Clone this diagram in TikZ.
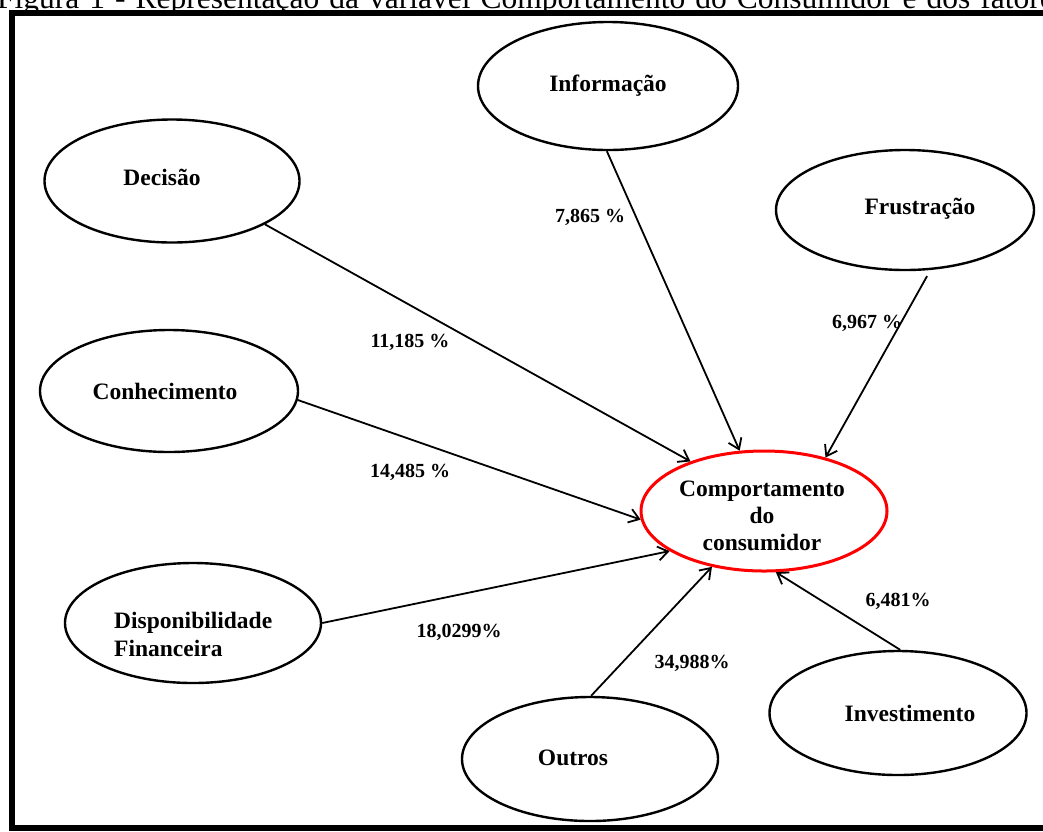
\documentclass[tikz,border=0pt]{standalone}
\usepackage{fontspec}
\setmainfont{Liberation Serif}
\usetikzlibrary{shapes.geometric,arrows.meta}
\begin{document}
\begin{tikzpicture}[x=1pt,y=-1pt,
  oval/.style={draw,ellipse,line width=2.4pt,inner sep=0pt},
  ntext/.style={font=\fontsize{23.5}{28}\selectfont\bfseries, inner sep=0pt, align=center},
  ptext/.style={font=\fontsize{20}{24}\selectfont\bfseries, inner sep=0pt},
  link/.style={line width=1.8pt,-{Straight Barb[length=10pt,width=14pt]}}]
\useasboundingbox (0,0) rectangle (1043,831);
\clip (0,0) rectangle (1043,831);
\node[anchor=base west, font=\fontsize{31.5}{33}\selectfont, inner sep=0pt] (cap) at (-3,8) {\spaceskip=10pt\relax Figura 1 - Representação da variável Comportamento do Consumidor e dos fatores};
\draw[line width=6pt] (12,13) rectangle (1060,828);
% ellipses
\node[oval, minimum width=260pt, minimum height=128pt] (info) at (608,86) {};
\node[oval, minimum width=255pt, minimum height=123pt] (dec) at (172,181) {};
\node[oval, minimum width=258pt, minimum height=120pt] (fru) at (905,210) {};
\node[oval, minimum width=258pt, minimum height=122pt] (con) at (169,391) {};
\node[oval, draw=red, line width=3pt, minimum width=246pt, minimum height=120pt] (comp) at (764,511) {};
\node[oval, minimum width=256pt, minimum height=120pt] (dis) at (193,623) {};
\node[oval, minimum width=256pt, minimum height=124pt] (out) at (590,759) {};
\node[oval, minimum width=257pt, minimum height=124pt] (inv) at (898,713) {};
% texts
\node[ntext] (tinfo) at (608,86) {Informação};
\node[ntext] (tdec) at (162,177) {Decisão};
\node[ntext] (tfru) at (920,209) {Frustração};
\node[ntext] (tcon) at (165,391) {Conhecimento};
\node[ntext, font=\fontsize{23.5}{27}\selectfont\bfseries] (tcomp) at (762,516) {Comportamento\\do\\consumidor};
\node[ntext, align=left, anchor=west] (tdis) at (114,634) {Disponibilidade\\Financeira};
\node[ntext] (tout) at (573,758) {Outros};
\node[ntext] (tinv) at (910,713) {Investimento};
% connectors
\draw[link] (dec.-25) -- (comp.146.6);
\draw[link] (info.-91) -- (comp.112);
\draw[link, shorten <=7pt] (fru.-67) -- (comp.41.6);
\draw[link] (con.-4) -- (comp.184);
\draw[link] (dis.0) -- (comp.203);
\draw[link] (out.89) -- (comp.227);
\draw[link] (inv.88) -- (comp.281.5);
% labels
\node[ptext] (l1) at (590,217) {7,865 \%};
\node[ptext] (l2) at (410,342) {11,185 \%};
\node[ptext] (l3) at (867,323) {6,967 \%};
\node[ptext] (l4) at (410,472) {14,485 \%};
\node[ptext] (l5) at (459,632) {18,0299\%};
\node[ptext] (l6) at (692,663) {34,988\%};
\node[ptext] (l7) at (898,601) {6,481\%};
\end{tikzpicture}
\end{document}
